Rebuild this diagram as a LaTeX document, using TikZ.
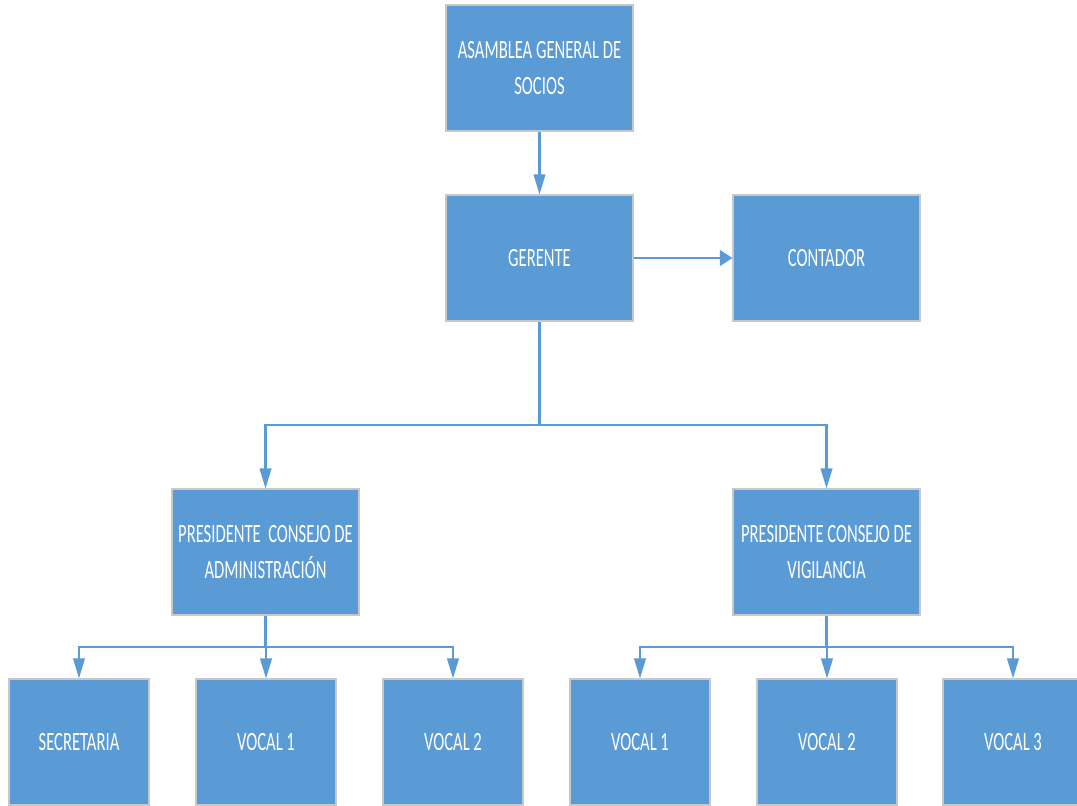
\documentclass[tikz,border=0pt]{standalone}
\usepackage{fontspec}
\setmainfont{Carlito}[FakeStretch=0.63]
\usepackage{tikz}
\usetikzlibrary{arrows.meta,positioning}
\definecolor{boxblue}{RGB}{91,155,213}
\definecolor{boxrim}{RGB}{200,200,200}

\begin{document}
\begin{tikzpicture}[
  unit/.style={draw=boxrim, line width=0.6pt, fill=boxblue, text=white,
               minimum width=3.74cm, minimum height=2.52cm, align=center,
               font=\fontsize{15}{20.5}\selectfont},
  post/.style={unit, minimum width=2.8cm},
  wire/.style={draw=boxblue, line width=1.3pt},
  arr/.style={wire, -{Triangle[length=4mm, width=2.3mm]}},
  harr/.style={wire, -{Triangle[length=2.5mm, width=3.1mm]}}
]
  \useasboundingbox (0,0) rectangle (21.54,-16.1);

  \node[unit] (AGS)  at (10.79,-1.36)  {ASAMBLEA GENERAL DE\\SOCIOS};
  \node[unit] (GER)  at (10.79,-5.16)  {GERENTE};
  \node[unit] (CONT) at (16.53,-5.16)  {CONTADOR};
  \node[unit] (PADM) at (5.31,-11.04)  {PRESIDENTE\ \ CONSEJO DE\\ADMINISTRACIÓN};
  \node[unit] (PVIG) at (16.53,-11.04) {PRESIDENTE CONSEJO DE\\VIGILANCIA};

  \node[post] (SEC) at (1.58,-14.84)  {SECRETARIA};
  \node[post] (VA1) at (5.32,-14.84)  {VOCAL 1};
  \node[post] (VA2) at (9.06,-14.84)  {VOCAL 2};
  \node[post] (VB1) at (12.8,-14.84)  {VOCAL 1};
  \node[post] (VB2) at (16.54,-14.84) {VOCAL 2};
  \node[post] (VB3) at (20.26,-14.84) {VOCAL 3};

  \draw[arr] (AGS) -- (GER);
  \draw[harr] (GER) -- (CONT);

  \coordinate (top) at (10.79,-8.5);
  \draw[wire] (GER) -- (top);
  \draw[arr] (top) -| (PADM);
  \draw[arr] (top) -| (PVIG);

  \coordinate (busA) at (5.31,-12.94);
  \draw[wire] (PADM) -- (busA);
  \foreach \n in {SEC,VA1,VA2} \draw[arr] (busA) -| (\n);

  \coordinate (busB) at (16.53,-12.94);
  \draw[wire] (PVIG) -- (busB);
  \foreach \n in {VB1,VB2,VB3} \draw[arr] (busB) -| (\n);
\end{tikzpicture}
\end{document}
